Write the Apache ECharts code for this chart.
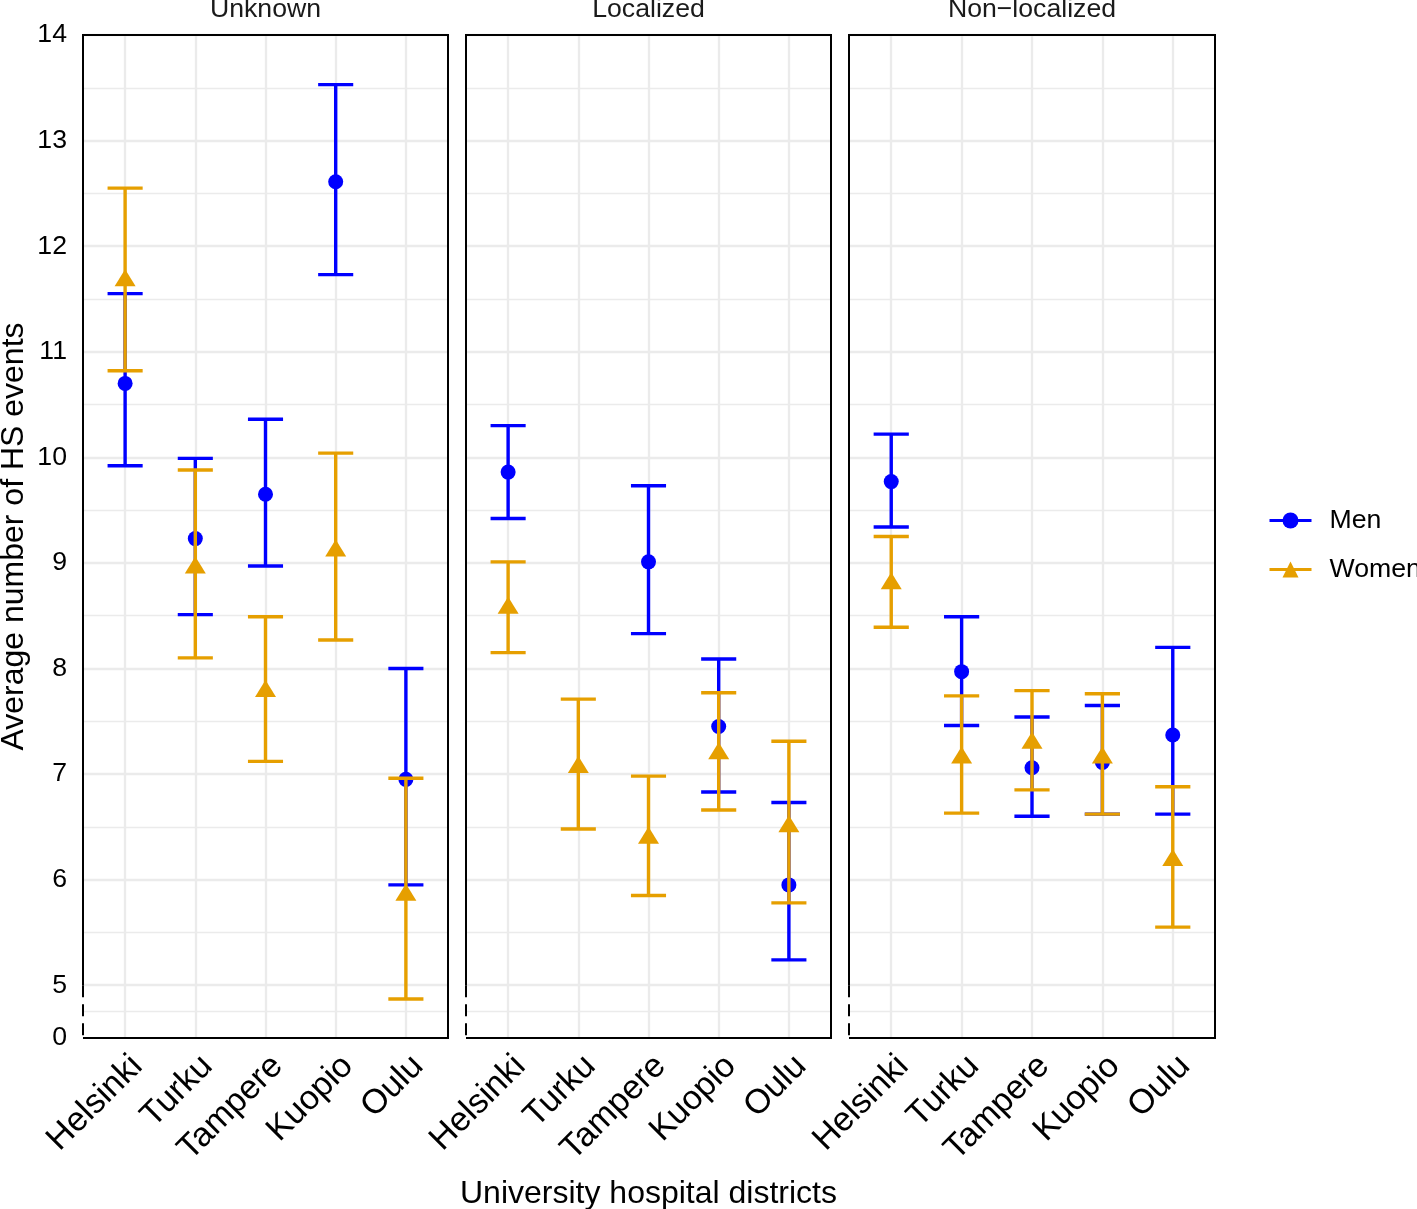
<!DOCTYPE html>
<html>
<head>
<meta charset="utf-8">
<script src="https://cdn.jsdelivr.net/npm/echarts@6/dist/echarts.min.js"></script>
<style>html,body{margin:0;padding:0;background:#fff;}#c{width:1417px;height:1209px;}</style>
</head>
<body>
<div id="c"></div>
<script>
// ---------- data ----------
const categories = ['Helsinki', 'Turku', 'Tampere', 'Kuopio', 'Oulu'];
const panels = ['Unknown', 'Localized', 'Non\u2212localized'];
const groups = ['Men', 'Women'];

// Men: mean, lower, upper per panel (Unknown, Localized, Non-localized)
const menUnknown = [10.70, 9.23, 9.65, 12.61, 6.95];
const menUnknownLow = [9.92, 8.51, 8.97, 11.73, 5.95];
const menUnknownHigh = [11.55, 9.99, 10.36, 13.53, 8.00];
const menLocalized = [9.86, null, 9.01, 7.45, 5.95];
const menLocalizedLow = [9.42, null, 8.33, 6.83, 5.24];
const menLocalizedHigh = [10.30, null, 9.73, 8.09, 6.73];
const menNonLocalized = [9.77, 7.97, 7.06, 7.11, 7.37];
const menNonLocalizedLow = [9.34, 7.46, 6.60, 6.62, 6.62];
const menNonLocalizedHigh = [10.22, 8.49, 7.54, 7.65, 8.20];

// Women
const womenUnknown = [11.70, 8.98, 7.81, 9.14, 5.88];
const womenUnknownLow = [10.82, 8.10, 7.12, 8.27, 4.87];
const womenUnknownHigh = [12.55, 9.88, 8.49, 10.04, 6.96];
const womenLocalized = [8.60, 7.09, 6.42, 7.22, 6.53];
const womenLocalizedLow = [8.15, 6.48, 5.85, 6.66, 5.78];
const womenLocalizedHigh = [9.01, 7.71, 6.98, 7.77, 7.31];
const womenNonLocalized = [8.83, 7.18, 7.32, 7.18, 6.21];
const womenNonLocalizedLow = [8.39, 6.63, 6.85, 6.62, 5.55];
const womenNonLocalizedHigh = [9.25, 7.74, 7.79, 7.76, 6.88];

// y-axis tick labels (axis is broken between 0 and 5)
const yTickLabels = [0, 5, 6, 7, 8, 9, 10, 11, 12, 13, 14];
const yMinorTicks = [4.75, 5.5, 6.5, 7.5, 8.5, 9.5, 10.5, 11.5, 12.5, 13.5];
const BREAK_POS = 4.5;   // axis position where the "0" label sits
const BREAK_START = 5;   // axis is dashed below this value
const Y_MAX = 14;

// ---------- assembly ----------
const menMean = [menUnknown, menLocalized, menNonLocalized];
const menLow = [menUnknownLow, menLocalizedLow, menNonLocalizedLow];
const menHigh = [menUnknownHigh, menLocalizedHigh, menNonLocalizedHigh];
const womenMean = [womenUnknown, womenLocalized, womenNonLocalized];
const womenLow = [womenUnknownLow, womenLocalizedLow, womenNonLocalizedLow];
const womenHigh = [womenUnknownHigh, womenLocalizedHigh, womenNonLocalizedHigh];

const BLUE = '#0000FF';
const ORANGE = '#E69F00';
const FONT = 'Liberation Sans, Arial, Helvetica, sans-serif';
const X_MIN = -0.6, X_MAX = 4.6, CAP = 0.25;

const gridBoxes = [
  {left: 83, top: 35, width: 365, height: 1003},
  {left: 466, top: 35, width: 365, height: 1003},
  {left: 849, top: 35, width: 366, height: 1003}
];
const catIdx = categories.map((c, i) => i);
const yLabelPos = yTickLabels.map(v => v === 0 ? BREAK_POS : v);
const yMajorTicks = yTickLabels.filter(v => v !== 0);

const grids = [], xAxes = [], yAxes = [], series = [], graphics = [];

function pts(arr) {
  const out = [];
  arr.forEach((v, i) => { if (v != null) out.push([i, v]); });
  return out;
}
function bars(lo, hi) {
  const out = [];
  lo.forEach((v, i) => { if (v != null && hi[i] != null) out.push([i, v, hi[i]]); });
  return out;
}
function errRender(color) {
  return function (params, api) {
    const x = api.value(0), lo = api.value(1), hi = api.value(2);
    const pLo = api.coord([x, lo]), pHi = api.coord([x, hi]);
    const l = api.coord([x - CAP, lo]), r = api.coord([x + CAP, lo]);
    const st = {stroke: color, lineWidth: 3.4, fill: null};
    return {type: 'group', children: [
      {type: 'line', shape: {x1: pLo[0], y1: pLo[1], x2: pHi[0], y2: pHi[1]}, style: st},
      {type: 'line', shape: {x1: l[0], y1: pLo[1], x2: r[0], y2: pLo[1]}, style: st},
      {type: 'line', shape: {x1: l[0], y1: pHi[1], x2: r[0], y2: pHi[1]}, style: st}
    ]};
  };
}
function borderRender(params, api) {
  const tl = api.coord([X_MIN, Y_MAX]), tr = api.coord([X_MAX, Y_MAX]);
  const br = api.coord([X_MAX, BREAK_POS]), bl = api.coord([X_MIN, BREAK_POS]);
  const l5 = api.coord([X_MIN, BREAK_START]);
  return {type: 'group', children: [
    {type: 'polyline', shape: {points: [l5, tl, tr, br, bl]}, style: {stroke: '#000', lineWidth: 2, fill: null}},
    {type: 'line', shape: {x1: l5[0], y1: l5[1], x2: bl[0], y2: bl[1]}, style: {stroke: '#000', lineWidth: 2, lineDash: [12, 7]}}
  ]};
}

panels.forEach((p, i) => {
  grids.push(Object.assign({containLabel: false, outerBoundsMode: 'none'}, gridBoxes[i]));
  xAxes.push({
    gridIndex: i, type: 'value', min: X_MIN, max: X_MAX,
    axisLine: {show: false},
    axisTick: {show: false, customValues: catIdx},
    axisLabel: {
      customValues: catIdx, formatter: v => categories[Math.round(v)] || '',
      rotate: 45, align: 'right', verticalAlign: 'top', margin: 11,
      fontSize: 34, color: '#000', fontFamily: FONT
    },
    splitLine: {show: true, lineStyle: {color: '#EBEBEB', width: 2.3}},
    name: i === 1 ? 'University hospital districts' : '',
    nameLocation: 'middle', nameGap: 140,
    nameTextStyle: {fontSize: 32, color: '#000', fontFamily: FONT}
  });
  yAxes.push({
    gridIndex: i, type: 'value', min: BREAK_POS, max: Y_MAX, position: 'left',
    axisLine: {show: false},
    axisTick: {show: false, customValues: yMajorTicks},
    axisLabel: {
      show: i === 0, customValues: yLabelPos,
      formatter: v => (Math.abs(v - BREAK_POS) < 1e-9 ? '0' : String(v)),
      fontSize: 26.67, color: '#000', margin: 16, fontFamily: FONT
    },
    splitLine: {show: true, lineStyle: {color: '#EBEBEB', width: 2.3}},
    name: i === 0 ? 'Average number of HS events' : '',
    nameLocation: 'middle', nameGap: 53,
    nameTextStyle: {fontSize: 32, color: '#000', fontFamily: FONT}
  });
  yAxes.push({
    gridIndex: i, type: 'value', min: BREAK_POS, max: Y_MAX, position: 'right',
    axisLine: {show: false}, axisLabel: {show: false},
    axisTick: {show: false, customValues: yMinorTicks},
    splitLine: {show: true, lineStyle: {color: '#EBEBEB', width: 1.3}}
  });
  graphics.push({
    type: 'text', x: gridBoxes[i].left + gridBoxes[i].width / 2, y: 9.8,
    style: {text: p, fontSize: 26.67, fill: '#1A1A1A', align: 'center', verticalAlign: 'middle', fontFamily: FONT}
  });
});

// point series first (legend takes its icon from the first series of each name)
panels.forEach((p, i) => {
  series.push({
    type: 'line', name: 'Men', xAxisIndex: i, yAxisIndex: 2 * i, data: pts(menMean[i]),
    symbol: 'circle', symbolSize: 15, showSymbol: true, z: 3, silent: true,
    itemStyle: {color: BLUE}, lineStyle: {color: BLUE, width: 3, opacity: 0}
  });
  series.push({
    type: 'line', name: 'Women', xAxisIndex: i, yAxisIndex: 2 * i, data: pts(womenMean[i]),
    symbol: 'triangle', symbolSize: [21, 17], showSymbol: true, z: 5, silent: true,
    itemStyle: {color: ORANGE}, lineStyle: {color: ORANGE, width: 3, opacity: 0}
  });
});
panels.forEach((p, i) => {
  series.push({
    type: 'custom', name: 'Men', xAxisIndex: i, yAxisIndex: 2 * i, z: 2, silent: true,
    data: bars(menLow[i], menHigh[i]), encode: {x: 0, y: [1, 2]},
    renderItem: errRender(BLUE), clip: false
  });
  series.push({
    type: 'custom', name: 'Women', xAxisIndex: i, yAxisIndex: 2 * i, z: 4, silent: true,
    data: bars(womenLow[i], womenHigh[i]), encode: {x: 0, y: [1, 2]},
    renderItem: errRender(ORANGE), clip: false
  });
  series.push({
    type: 'custom', name: 'border' + i, xAxisIndex: i, yAxisIndex: 2 * i, z: 6, silent: true,
    data: [[0, BREAK_START]], encode: {x: 0, y: 1},
    renderItem: borderRender, clip: false
  });
});

const chart = echarts.init(document.getElementById('c'), null, {renderer: 'canvas'});
chart.setOption({
  animation: false,
  backgroundColor: '#fff',
  textStyle: {fontFamily: FONT},
  grid: grids, xAxis: xAxes, yAxis: yAxes, series: series,
  legend: {
    orient: 'vertical', left: 1268, top: 507, padding: 0, itemWidth: 42, itemHeight: 20, itemGap: 22,
    data: groups, selectedMode: false,
    lineStyle: {opacity: 1, width: 3},
    textStyle: {fontSize: 26.67, color: '#000', fontFamily: FONT, padding: [0, 0, 0, 13], lineHeight: 20}
  },
  graphic: graphics
});
</script>
</body>
</html>
